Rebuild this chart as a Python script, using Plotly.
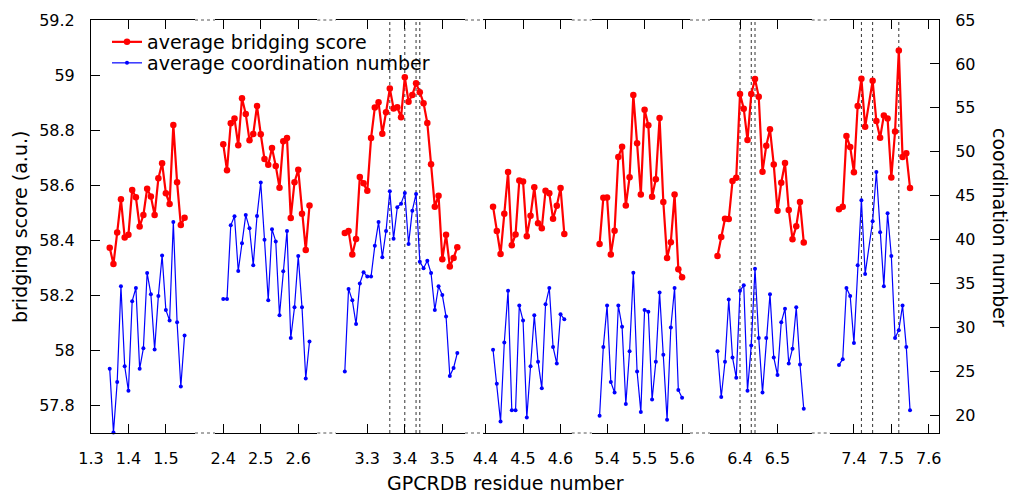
import plotly.graph_objects as go

# ---------------- data ----------------
res1 = [1.35,1.36,1.37,1.38,1.39,1.40,1.41,1.42,1.43,1.44,1.45,1.46,1.47,1.48,1.49,1.50,1.51,1.52,1.53,1.54,1.55]
bri1 = [58.373,58.314,58.428,58.549,58.410,58.420,58.583,58.556,58.450,58.492,58.587,58.559,58.492,58.625,58.680,58.571,58.532,58.819,58.611,58.455,58.482]
coo1 = [25.3,18.05,23.8,34.7,25.6,22.8,33.0,34.5,25.3,27.65,36.2,33.8,27.5,33.6,38.2,32.0,30.8,42.0,30.6,23.3,29.1]

res2 = [2.40,2.41,2.42,2.43,2.44,2.45,2.46,2.47,2.48,2.49,2.50,2.51,2.52,2.53,2.54,2.55,2.56,2.57,2.58,2.59,2.60,2.61,2.62,2.63]
bri2 = [58.749,58.654,58.825,58.842,58.745,58.916,58.859,58.763,58.786,58.888,58.785,58.695,58.674,58.735,58.670,58.591,58.760,58.771,58.481,58.611,58.656,58.496,58.365,58.526]
coo2 = [33.26,33.26,41.64,42.67,36.44,39.6,42.8,41.3,37.1,42.7,46.5,40.0,33.1,41.2,39.8,31.4,36.4,41.0,28.8,32.3,38.15,32.3,24.2,28.4]

res3 = [3.24,3.25,3.26,3.27,3.28,3.29,3.30,3.31,3.32,3.33,3.34,3.35,3.36,3.37,3.38,3.39,3.40,3.41,3.42,3.43,3.44,3.45,3.46,3.47,3.48,3.49,3.50,3.51,3.52,3.53,3.54]
bri3 = [58.426,58.434,58.348,58.405,58.630,58.607,58.580,58.771,58.882,58.901,58.787,58.865,58.951,58.879,58.883,58.847,58.992,58.903,58.928,58.970,58.938,58.898,58.826,58.676,58.522,58.562,58.331,58.420,58.305,58.336,58.375]
coo3 = [25.0,34.4,33.1,30.4,35.0,36.3,35.8,35.8,39.3,42.0,38.0,41.0,45.5,40.1,43.7,44.1,45.3,39.5,43.3,45.2,37.5,36.75,37.6,36.2,32.0,34.7,33.7,31.25,24.5,25.4,27.1]

res4 = [4.42,4.43,4.44,4.45,4.46,4.47,4.48,4.49,4.50,4.51,4.52,4.53,4.54,4.55,4.56,4.57,4.58,4.59,4.60,4.61]
bri4 = [58.522,58.434,58.350,58.496,58.648,58.382,58.421,58.617,58.613,58.415,58.489,58.593,58.462,58.444,58.580,58.571,58.478,58.525,58.590,58.423]
coo4 = [27.46,23.6,19.3,28.3,34.2,20.6,20.6,32.5,30.8,19.75,25.6,31.4,26.1,23.1,32.65,34.5,27.8,25.9,31.5,30.95]

res5 = [5.38,5.39,5.40,5.41,5.42,5.43,5.44,5.45,5.46,5.47,5.48,5.49,5.50,5.51,5.52,5.53,5.54,5.55,5.56,5.57,5.58,5.59,5.60]
bri5 = [58.386,58.554,58.555,58.348,58.435,58.702,58.740,58.526,58.629,58.928,58.752,58.566,58.874,58.818,58.558,58.622,58.844,58.539,58.336,58.393,58.566,58.295,58.266]
coo5 = [19.95,27.8,32.5,23.8,22.6,32.5,30.1,21.3,27.3,36.25,25.0,20.4,32.0,31.8,21.8,26.1,34.0,26.9,19.5,30.0,34.5,22.9,22.0]

res6 = [6.34,6.35,6.36,6.37,6.38,6.39,6.40,6.41,6.42,6.43,6.44,6.45,6.46,6.47,6.48,6.49,6.50,6.51,6.52,6.53,6.54,6.55,6.56,6.57]
bri6 = [58.343,58.412,58.478,58.477,58.615,58.627,58.931,58.878,58.764,58.931,58.986,58.921,58.649,58.743,58.803,58.675,58.507,58.609,58.681,58.510,58.404,58.451,58.539,58.392]
coo6 = [27.3,22.1,26.1,33.2,26.6,24.3,34.2,34.8,22.8,27.95,36.7,28.8,22.6,28.8,33.8,26.6,24.6,30.6,32.15,25.9,27.6,32.3,25.8,20.75]

res7 = [7.36,7.37,7.38,7.39,7.40,7.41,7.42,7.43,7.45,7.46,7.47,7.48,7.49,7.50,7.51,7.52,7.53,7.54,7.55]
bri7 = [58.513,58.522,58.779,58.739,58.647,58.888,58.987,58.812,58.979,58.833,58.772,58.853,58.842,58.628,58.795,59.089,58.702,58.716,58.590]
coo7 = [25.75,26.4,34.5,33.6,28.25,37.1,44.5,36.1,42.1,47.7,40.85,34.7,43.0,38.15,28.8,29.7,32.5,27.8,20.6]

residues = [res1, res2, res3, res4, res5, res6, res7]
bridging = [bri1, bri2, bri3, bri4, bri5, bri6, bri7]
coordination = [coo1, coo2, coo3, coo4, coo5, coo6, coo7]

tick_labels = [["1.3","1.4","1.5"],["2.4","2.5","2.6"],["3.3","3.4","3.5"],
               ["4.4","4.5","4.6"],["5.4","5.5","5.6"],["6.4","6.5"],["7.4","7.5","7.6"]]

# highlighted residues (dotted vertical lines): (segment index, residue)
marked = [(3, 3.36), (3, 3.40), (3, 3.43), (3, 3.44),
          (6, 6.40), (6, 6.43), (6, 6.44),
          (7, 7.42), (7, 7.45), (7, 7.52)]

left_ticks = [57.8, 58.0, 58.2, 58.4, 58.6, 58.8, 59.0, 59.2]
left_tick_text = ["57.8", "58", "58.2", "58.4", "58.6", "58.8", "59", "59.2"]
right_ticks = [20, 25, 30, 35, 40, 45, 50, 55, 60, 65]

# ---------------- layout geometry ----------------
W, H = 1011, 493
ML, MR, MT, MB = 91, 72, 20, 60
PW = W - ML - MR
PH = H - MT - MB
seg_px = [(90.8, 195), (215, 317.3), (336, 465), (483.3, 571.7), (591.7, 690), (710, 811.7), (830, 939.3)]
seg_lo = [1.30, 2.378, 3.2165, 4.394, 5.359, 6.32, 7.336]
PX_PER_UNIT = 375.0

def px2paper(px):
    return (px - ML) / PW

def py2paper(py):
    return (H - MB - py) / PH

FONT = "DejaVu Sans"
RED = "#ff0000"
BLUE = "#0000ff"
TICK_SIZE = 16
TITLE_SIZE = 19

fig = go.Figure()
layout = dict(
    width=W, height=H,
    margin=dict(l=ML, r=MR, t=MT, b=MB, pad=0),
    paper_bgcolor="white", plot_bgcolor="white",
    font=dict(family=FONT, size=TICK_SIZE, color="black"),
    showlegend=True,
)

for i in range(7):
    k = i + 1
    xname = "x" if k == 1 else f"x{k}"
    axkey = "xaxis" if k == 1 else f"xaxis{k}"
    p0, p1 = seg_px[i]
    lo = seg_lo[i]
    hi = lo + (p1 - p0) / PX_PER_UNIT
    tv = [float(t) for t in tick_labels[i]]
    layout[axkey] = dict(
        domain=[max(0, px2paper(p0)), min(1, px2paper(p1))],
        range=[lo, hi], anchor="y",
        tickvals=tv, ticktext=tick_labels[i],
        ticks="inside", ticklen=9, tickwidth=1, tickcolor="black",
        showline=True, linecolor="black", linewidth=1, mirror="ticks",
        showgrid=False, zeroline=False, ticklabelstandoff=11,
        tickfont=dict(size=TICK_SIZE),
    )
    fig.add_trace(go.Scatter(
        x=residues[i], y=coordination[i], xaxis=xname, yaxis="y2",
        mode="lines+markers", line=dict(color=BLUE, width=1.2),
        marker=dict(color=BLUE, size=4, symbol="circle"),
        name="average coordination number", showlegend=False,
        cliponaxis=False,
    ))
    fig.add_trace(go.Scatter(
        x=residues[i], y=bridging[i], xaxis=xname, yaxis="y",
        mode="lines+markers", line=dict(color=RED, width=2.2),
        marker=dict(color=RED, size=6.5, symbol="circle"),
        name="average bridging score", showlegend=False,
    ))

# legend entries
fig.add_trace(go.Scatter(x=[None], y=[None], mode="lines+markers",
                         line=dict(color=RED, width=2.2), marker=dict(color=RED, size=6.5),
                         name="average bridging score", legend="legend"))
fig.add_trace(go.Scatter(x=[None], y=[None], mode="lines+markers", yaxis="y2",
                         line=dict(color=BLUE, width=1.2), marker=dict(color=BLUE, size=4),
                         name="average coordination number", legend="legend2"))

layout["yaxis"] = dict(
    range=[57.7, 59.2], anchor="x", tickvals=left_ticks, ticktext=left_tick_text,
    ticks="inside", ticklen=9, tickcolor="black",
    showline=True, linecolor="black", linewidth=1, showgrid=False, zeroline=False,
    ticklabelstandoff=12,
)
layout["yaxis2"] = dict(
    range=[18, 65], anchor="x7", overlaying="y", side="right", tickvals=right_ticks,
    ticks="inside", ticklen=9, tickcolor="black",
    showline=True, linecolor="black", linewidth=1, showgrid=False, zeroline=False,
    ticklabelstandoff=12,
)
leg_common = dict(xanchor="left", yanchor="middle", bgcolor="rgba(0,0,0,0)",
                  font=dict(size=TITLE_SIZE), itemwidth=30, borderwidth=0)
layout["legend"] = dict(x=px2paper(107), y=py2paper(42), **leg_common)
layout["legend2"] = dict(x=px2paper(107), y=py2paper(63), **leg_common)

shapes = []
# axis breaks drawn as dotted segments on bottom and top borders
for i in range(6):
    g0 = px2paper(seg_px[i][1])
    g1 = px2paper(seg_px[i + 1][0])
    for yy in (0, 1):
        shapes.append(dict(type="line", xref="paper", yref="paper", x0=g0, x1=g1, y0=yy, y1=yy,
                           line=dict(color="#555555", width=1, dash="dot")))
# dotted vertical marker lines
for seg, r in marked:
    xr = "x" if seg == 1 else f"x{seg}"
    shapes.append(dict(type="line", xref=xr, yref="paper", x0=r, x1=r, y0=0, y1=1,
                       line=dict(color="#333333", width=1, dash="dot"), layer="below"))
layout["shapes"] = shapes

layout["annotations"] = [
    dict(text="GPCRDB residue number", xref="paper", yref="paper",
         x=px2paper(505), y=py2paper(483), showarrow=False,
         font=dict(size=TITLE_SIZE), xanchor="center", yanchor="middle"),
    dict(text="bridging score (a.u.)", xref="paper", yref="paper",
         x=px2paper(20), y=py2paper(227), showarrow=False, textangle=-90,
         font=dict(size=TITLE_SIZE), xanchor="center", yanchor="middle"),
    dict(text="coordination number", xref="paper", yref="paper",
         x=px2paper(1000), y=py2paper(227), showarrow=False, textangle=90,
         font=dict(size=TITLE_SIZE), xanchor="center", yanchor="middle"),
]

fig.update_layout(**layout)
fig.write_html("out.html")
